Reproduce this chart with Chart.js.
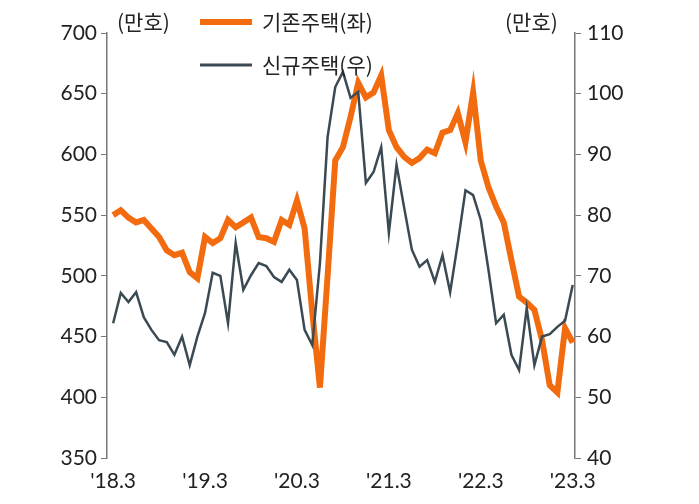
<!DOCTYPE html>
<html>
<head>
<meta charset="utf-8">
<script src="https://cdn.jsdelivr.net/npm/chart.js@4"></script>
<style>
  body { margin: 0; background: #fff; }
  #wrap { width: 699px; height: 504px; }
</style>
</head>
<body>
<div id="wrap"><canvas id="chart"></canvas></div>
<script>
// monthly, '18.3 ~ '23.3
const tickLabels = ["'18.3", "'19.3", "'20.3", "'21.3", "'22.3", "'23.3"];
const existing = [550, 554, 548, 544, 546, 539, 532, 521, 517, 519, 503, 498, 532, 527, 531, 546,
  540, 544, 548, 532, 531, 528, 546, 542, 562, 539, 470, 408, 500, 595, 606, 631, 659, 647, 651,
  665, 620, 606, 598, 593, 597, 604, 601, 618, 620, 634, 610, 651, 595, 573, 557, 544, 513, 483,
  478, 472, 447, 410, 404, 457, 445];
const newHomes = [62.2, 67.2, 65.7, 67.3, 63.2, 61.1, 59.4, 59.1, 57.0, 60.0, 55.3, 60.0, 63.9,
  70.5, 70.0, 62.2, 75.4, 67.7, 70.1, 72.1, 71.6, 69.8, 69.0, 71.0, 69.3, 61.1, 58.6, 72.1, 92.9,
  101.1, 103.6, 99.3, 100.3, 85.3, 87.1, 91.2, 77.1, 88.3, 81.2, 74.3, 71.5, 72.6, 69.0, 73.4,
  67.3, 75.4, 84.1, 83.3, 79.2, 71.0, 62.2, 63.6, 57.0, 54.5, 64.7, 55.3, 60.0, 60.4, 61.6, 62.6,
  68.5];

const toPts = arr => arr.map((v, i) => ({ x: i, y: v }));
const font = { family: "Lato, 'Noto Sans', sans-serif", size: 21 };

const overlay = {
  id: 'overlay',
  afterDraw(chart) {
    const ctx = chart.ctx;
    ctx.save();
    ctx.font = "21px 'Noto Sans CJK KR', sans-serif";
    ctx.fillStyle = '#222';
    ctx.textBaseline = 'middle';
    ctx.fillText('(만호)', 117, 22);
    ctx.fillText('(만호)', 505, 22);
    ctx.fillText('기존주택(좌)', 262, 22);
    ctx.fillText('신규주택(우)', 262, 65);
    ctx.lineCap = 'butt';
    ctx.strokeStyle = '#f26b0f'; ctx.lineWidth = 6;
    ctx.beginPath(); ctx.moveTo(200, 22); ctx.lineTo(252, 22); ctx.stroke();
    ctx.strokeStyle = '#3b4a52'; ctx.lineWidth = 3;
    ctx.beginPath(); ctx.moveTo(200, 65); ctx.lineTo(252, 65); ctx.stroke();
    ctx.restore();
  }
};

new Chart(document.getElementById('chart'), {
  type: 'line',
  data: {
    datasets: [
      { label: '기존주택(좌)', data: toPts(existing), yAxisID: 'yL', borderColor: '#f26b0f',
        borderWidth: 6, pointRadius: 0, tension: 0, order: 2 },
      { label: '신규주택(우)', data: toPts(newHomes), yAxisID: 'yR', borderColor: '#3b4a52',
        borderWidth: 2.5, pointRadius: 0, tension: 0, order: 1 }
    ]
  },
  plugins: [overlay],
  options: {
    responsive: true,
    maintainAspectRatio: false,
    animation: false,
    layout: { padding: { top: 33, left: 0, right: 0, bottom: 0 } },
    plugins: { legend: { display: false }, tooltip: { enabled: false } },
    scales: {
      x: {
        type: 'linear', min: -0.8, max: 60.3,
        afterBuildTicks: s => { s.ticks = tickLabels.map((_, i) => ({ value: i * 12 })); },
        afterFit: s => { s.height = 46; },
        ticks: { callback: v => tickLabels[v / 12], font, color: '#222', maxRotation: 0 },
        grid: { display: false },
        border: { display: false }
      },
      yL: {
        position: 'left', min: 350, max: 700,
        afterFit: s => { s.width = 107; },
        ticks: { stepSize: 50, font, color: '#222', padding: 4 },
        grid: { drawOnChartArea: false, tickLength: 6, color: '#777' },
        border: { color: '#777', width: 1.5 }
      },
      yR: {
        position: 'right', min: 40, max: 110,
        afterFit: s => { s.width = 124; },
        ticks: { stepSize: 10, font, color: '#222', padding: 6 },
        grid: { drawOnChartArea: false, tickLength: 6, color: '#777' },
        border: { color: '#777', width: 1.5 }
      }
    }
  }
});
</script>
</body>
</html>
